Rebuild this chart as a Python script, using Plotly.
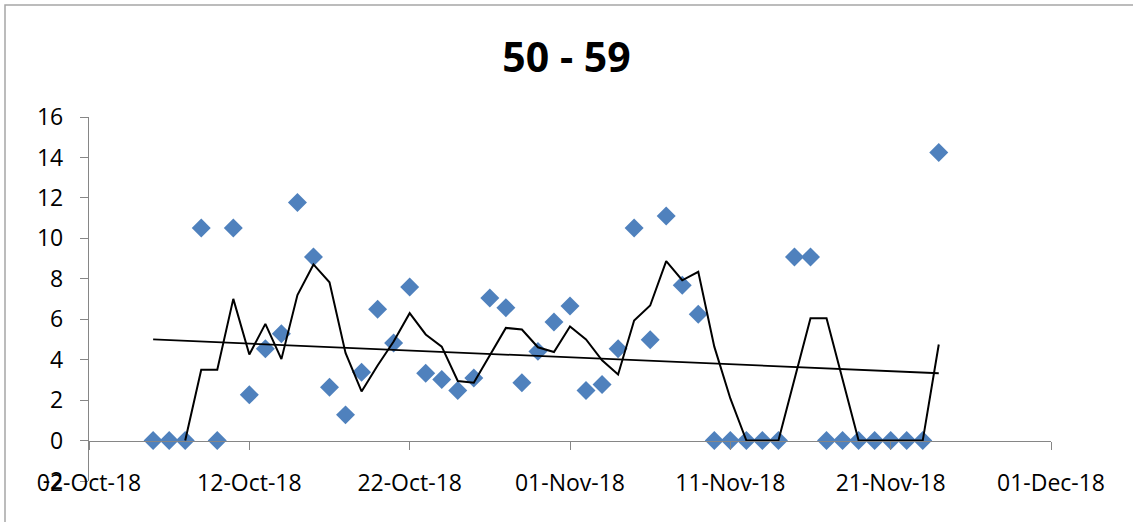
import numpy as np
import pandas as pd
import plotly.graph_objects as go

# ---- data ----
start_date = "2018-10-06"
values = [0, 0, 0, 10.51, 0, 10.51, 2.26, 4.54, 5.28, 11.77,
          9.08, 2.64, 1.27, 3.38, 6.49, 4.82, 7.59, 3.33, 3.02, 2.48,
          3.09, 7.05, 6.57, 2.86, 4.41, 5.86, 6.65, 2.48, 2.77, 4.54,
          10.51, 4.99, 11.11, 7.68, 6.25, 0, 0, 0, 0, 0,
          9.08, 9.08, 0, 0, 0, 0, 0, 0, 0, 14.25]
dates = pd.date_range(start_date, periods=len(values), freq="D")
title_text = "50 - 59"
x_range = ["2018-10-02", "2018-12-01"]
y_range = [-2, 16]
y_ticks = [-2, 0, 2, 4, 6, 8, 10, 12, 14, 16]
y_ticktext = ["-2", "0", "2", "4", "6", "8", "10", "12", "14", "16"]

# 3-period moving average (Excel trendline) and linear trend
s = pd.Series(values, index=dates)
ma = s.rolling(3).mean()
t = (dates - dates[0]).days.values.astype(float)
slope, intercept = np.polyfit(t, np.array(values), 1)
trend = slope * t + intercept

W, H = 1133, 522
L, R, T, B = 89, 1051, 117, 481

fig = go.Figure()
fig.add_trace(go.Scatter(
    x=dates, y=values, mode="markers",
    marker=dict(symbol="diamond", size=14.6, color="#4F81BD", line=dict(width=0)),
    showlegend=False, hoverinfo="x+y"))
fig.add_trace(go.Scatter(
    x=dates[2:], y=ma.values[2:], mode="lines",
    line=dict(color="black", width=2), showlegend=False))
fig.add_trace(go.Scatter(
    x=[dates[0], dates[-1]], y=[trend[0], trend[-1]], mode="lines",
    line=dict(color="black", width=1.8), showlegend=False))

axis_gray = "#868686"
font_family = "Open Sans"
zero_pos = (0 - y_range[0]) / (y_range[1] - y_range[0])

fig.update_layout(
    width=W, height=H,
    margin=dict(l=L, r=W - R, t=T, b=H - B, pad=0),
    paper_bgcolor="white", plot_bgcolor="white",
    title=dict(text=title_text, x=0.5, xanchor="center", y=1 - 58 / H, yanchor="middle",
               font=dict(family=font_family, size=41, color="black", weight="bold")),
    font=dict(family=font_family, color="black"),
    xaxis=dict(type="date", range=x_range, anchor="free", position=zero_pos,
               tick0=x_range[0], dtick=864000000, showgrid=False, zeroline=False,
               showline=True, linecolor=axis_gray, linewidth=1.3,
               ticks="outside", ticklen=8, tickcolor=axis_gray, tickwidth=1.3,
               showticklabels=False),
    xaxis2=dict(type="date", range=x_range, overlaying="x", matches="x", anchor="free", position=0.038,
                side="bottom", tick0=x_range[0], dtick=864000000, tickformat="%d-%b-%y",
                showgrid=False, zeroline=False, showline=False, ticks="",
                tickfont=dict(family=font_family, size=23, color="black")),
    yaxis=dict(range=y_range, tickvals=y_ticks, ticktext=y_ticktext, showgrid=False, zeroline=False,
               showline=True, linecolor=axis_gray, linewidth=1.3,
               ticks="outside", ticklen=8, tickcolor=axis_gray, tickwidth=1.3,
               ticklabelstandoff=12,
               tickfont=dict(family=font_family, size=23, color="black")),
    shapes=[dict(type="rect", xref="paper", yref="paper",
                 x0=(5 - L) / (R - L), x1=1.2, y0=-0.3, y1=(B - 5) / (B - T),
                 line=dict(color="#A6A6A6", width=1.5), fillcolor="rgba(0,0,0,0)", layer="below")],
)
# dummy invisible trace so xaxis2 is rendered
fig.add_trace(go.Scatter(x=[dates[0]], y=[None], xaxis="x2", showlegend=False, hoverinfo="skip"))

fig.write_html("out.html", config={"displayModeBar": False},
               post_script="document.body.style.margin='0';")
